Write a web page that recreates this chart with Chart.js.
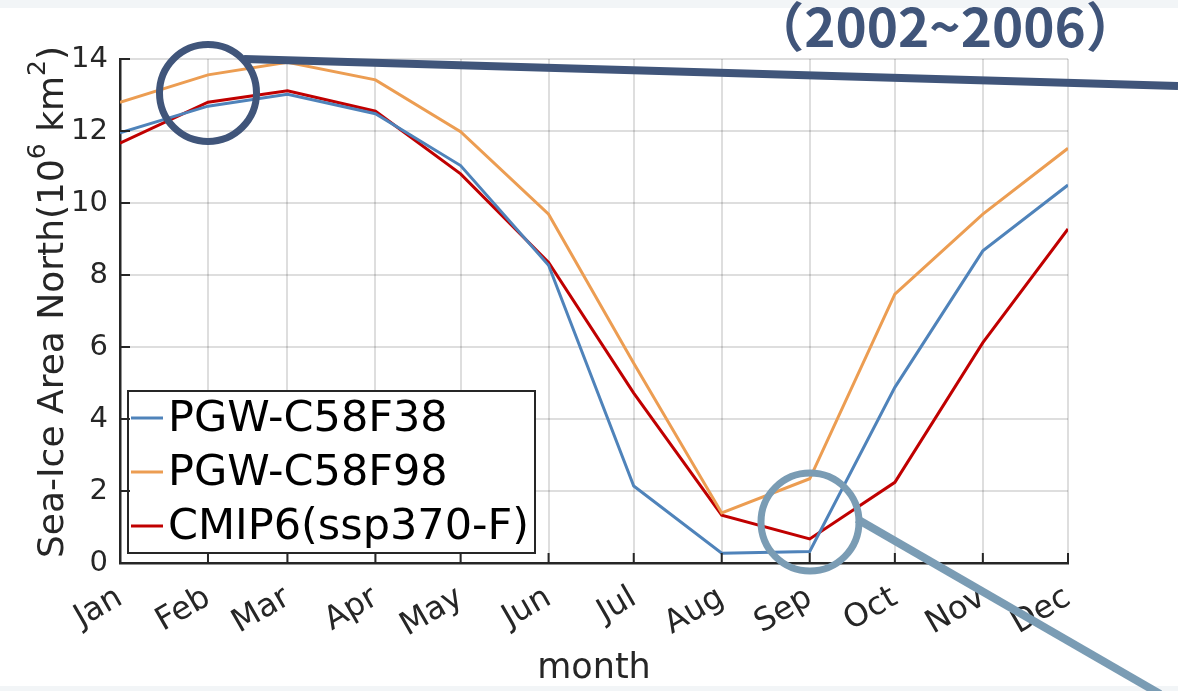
<!DOCTYPE html>
<html>
<head>
<meta charset="utf-8">
<script src="https://cdn.jsdelivr.net/npm/chart.js@4/dist/chart.umd.min.js"></script>
<style>
  html, body { margin: 0; padding: 0; background: #fff; }
  #wrap { position: relative; width: 1178px; height: 691px; }
</style>
</head>
<body>
<div id="wrap"><canvas id="seaIce"></canvas></div>
<script>
// day of year for first of each month (x positions in the original figure)
const monthDays = [1, 32, 60, 91, 121, 152, 182, 213, 244, 274, 305, 335];
const monthNames = ["Jan", "Feb", "Mar", "Apr", "May", "Jun", "Jul", "Aug", "Sep", "Oct", "Nov", "Dec"];
const yTicks = [0, 2, 4, 6, 8, 10, 12, 14];

// sea-ice area, 10^6 km^2
const pgwC58F38 = [11.95, 12.69, 13.02, 12.48, 11.04, 8.27, 2.14, 0.27, 0.32, 4.88, 8.67, 10.50];
const pgwC58F98 = [12.80, 13.56, 13.91, 13.42, 11.98, 9.69, 5.55, 1.39, 2.34, 7.47, 9.69, 11.52];
const cmip6F    = [11.66, 12.80, 13.12, 12.55, 10.81, 8.35, 4.72, 1.33, 0.67, 2.24, 6.12, 9.28];

const seriesNames = ["PGW-C58F38", "PGW-C58F98", "CMIP6(ssp370-F)"];
const seriesColors = ["#4f83ba", "#ec9d52", "#c00000"];

const axisColor = "#262626";
const fontFam = "'DejaVu Sans', sans-serif";

function toPoints(vals) {
    return vals.map((v, i) => ({ x: monthDays[i], y: v }));
}

// fond blanc + bandes grises en haut et en bas
const bgPlugin = {
    id: "bg",
    beforeDraw(chart) {
        const c = chart.ctx;
        c.save();
        c.fillStyle = "#fff";
        c.fillRect(0, 0, chart.width, chart.height);
        c.fillStyle = "#f2f5f7";
        c.fillRect(0, 0, chart.width, 8);
        c.fillRect(0, 686, chart.width, chart.height - 686);
        c.restore();
    }
};

// ticks vers l'interieur, style matlab
const innerTicks = {
    id: "innerTicks",
    afterDraw(chart) {
        const c = chart.ctx, xs = chart.scales.x, ys = chart.scales.y, a = chart.chartArea;
        c.save();
        c.strokeStyle = axisColor;
        c.lineWidth = 2;
        c.beginPath();
        xs.ticks.forEach(t => {
            const px = xs.getPixelForValue(t.value);
            c.moveTo(px, a.bottom);
            c.lineTo(px, a.bottom - 10);
        });
        ys.ticks.forEach(t => {
            const py = ys.getPixelForValue(t.value);
            c.moveTo(a.left, py);
            c.lineTo(a.left + 10, py);
        });
        c.stroke();
        c.restore();
    }
};

// titres d'axes (avec exposants)
const axisTitles = {
    id: "axisTitles",
    afterDraw(chart) {
        const c = chart.ctx;
        c.save();
        c.fillStyle = axisColor;
        // y label
        const parts = [
            ["Sea-Ice Area North(10", false],
            ["6", true],
            [" km", false],
            ["2", true],
            [")", false]
        ];
        const big = "36px " + fontFam, small = "25px " + fontFam;
        let total = 0;
        parts.forEach(p => { c.font = p[1] ? small : big; total += c.measureText(p[0]).width; });
        c.translate(63, 302);
        c.rotate(-Math.PI / 2);
        c.textBaseline = "alphabetic";
        c.textAlign = "left";
        let x = -total / 2;
        parts.forEach(p => {
            c.font = p[1] ? small : big;
            c.fillText(p[0], x, p[1] ? -18 : 0);
            x += c.measureText(p[0]).width;
        });
        c.restore();

        c.save();
        c.fillStyle = axisColor;
        c.font = "35px " + fontFam;
        c.textAlign = "center";
        c.textBaseline = "alphabetic";
        c.fillText("month", 594, 678);
        c.restore();
    }
};

// legende encadree en bas a gauche
const boxLegend = {
    id: "boxLegend",
    afterDatasetsDraw(chart) {
        const c = chart.ctx;
        c.save();
        c.fillStyle = "#fff";
        c.fillRect(128, 391, 407, 162);
        c.strokeStyle = axisColor;
        c.lineWidth = 2;
        c.strokeRect(128, 391, 407, 162);
        c.font = "43px " + fontFam;
        c.textBaseline = "middle";
        c.textAlign = "left";
        chart.data.datasets.forEach((ds, i) => {
            const y = 418 + i * 54;
            c.strokeStyle = ds.borderColor;
            c.lineWidth = 3;
            c.beginPath();
            c.moveTo(131, y);
            c.lineTo(163, y);
            c.stroke();
            c.fillStyle = "#000";
            c.fillText(ds.label, 168, y + 2);
        });
        c.restore();
    }
};

// annotations de la diapo (cercles, traits, periode)
const slideMarks = {
    id: "slideMarks",
    afterDraw(chart) {
        const c = chart.ctx;
        c.save();
        c.lineCap = "butt";
        c.strokeStyle = "#40557a";
        c.lineWidth = 7;
        c.beginPath();
        c.arc(208, 93, 48.5, 0, Math.PI * 2);
        c.stroke();
        c.lineWidth = 8;
        c.beginPath();
        c.moveTo(244, 59);
        c.lineTo(1178, 86);
        c.stroke();

        c.strokeStyle = "#7a9cb4";
        c.lineWidth = 7;
        c.beginPath();
        c.arc(810, 522, 49, 0, Math.PI * 2);
        c.stroke();
        c.lineWidth = 8;
        c.beginPath();
        c.moveTo(857, 519);
        c.lineTo(1160, 694);
        c.stroke();

        c.fillStyle = "#40557a";
        c.font = "bold 53px 'Noto Sans CJK SC', sans-serif";
        c.textAlign = "center";
        c.textBaseline = "alphabetic";
        c.fillText("（2002~2006）", 945, 47);
        c.restore();
    }
};

const ctx = document.getElementById("seaIce").getContext("2d");
const seaIceChart = new Chart(ctx, {
    type: "line",
    data: {
        datasets: [
            { label: seriesNames[0], data: toPoints(pgwC58F38), borderColor: seriesColors[0] },
            { label: seriesNames[1], data: toPoints(pgwC58F98), borderColor: seriesColors[1] },
            { label: seriesNames[2], data: toPoints(cmip6F), borderColor: seriesColors[2] }
        ].map(d => Object.assign(d, { borderWidth: 3, pointRadius: 0, tension: 0, fill: false }))
    },
    options: {
        responsive: true,
        maintainAspectRatio: false,
        animation: false,
        layout: { padding: { top: 59, right: 110, left: 0, bottom: 0 } },
        plugins: {
            legend: { display: false },
            tooltip: { enabled: false }
        },
        scales: {
            x: {
                type: "linear",
                min: monthDays[0],
                max: monthDays[monthDays.length - 1],
                afterBuildTicks(scale) {
                    scale.ticks = monthDays.map(v => ({ value: v }));
                },
                afterFit(scale) { scale.height = 128; },
                grid: { color: "rgba(0,0,0,0.13)", lineWidth: 2, drawTicks: false },
                border: { color: axisColor, width: 2.5 },
                ticks: {
                    autoSkip: false,
                    minRotation: 30,
                    maxRotation: 30,
                    padding: 16,
                    color: axisColor,
                    font: { family: fontFam, size: 32 },
                    callback: v => monthNames[monthDays.indexOf(v)]
                }
            },
            y: {
                min: 0,
                max: 14,
                afterBuildTicks(scale) {
                    scale.ticks = yTicks.map(v => ({ value: v }));
                },
                afterFit(scale) { scale.width = 120; },
                grid: { color: "rgba(0,0,0,0.13)", lineWidth: 2, drawTicks: false },
                border: { color: axisColor, width: 2.5 },
                ticks: {
                    padding: 12,
                    color: axisColor,
                    font: { family: fontFam, size: 29 }
                }
            }
        }
    },
    plugins: [bgPlugin, boxLegend, innerTicks, axisTitles, slideMarks]
});
</script>
</body>
</html>
